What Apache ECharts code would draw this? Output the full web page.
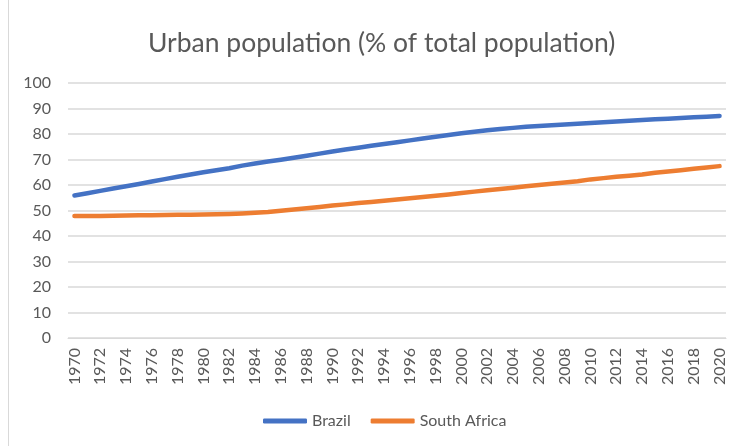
<!DOCTYPE html>
<html>
<head>
<meta charset="utf-8">
<script src="https://cdn.jsdelivr.net/npm/echarts@6/dist/echarts.min.js"></script>
<style>
  html, body { margin: 0; padding: 0; background: #fff; }
  #chart { width: 736px; height: 446px; }
</style>
</head>
<body>
<div id="chart"></div>
<script>
// Urban population as a share of total population, 1970–2020
const years = [];
for (let y = 1970; y <= 2020; y++) years.push(String(y));

const brazil = [
  55.9, 56.8, 57.7, 58.6, 59.5, 60.4, 61.4, 62.3, 63.2, 64.1,
  65.0, 65.8, 66.6, 67.6, 68.4, 69.2, 69.9, 70.7, 71.5, 72.3,
  73.1, 73.9, 74.6, 75.4, 76.1, 76.8, 77.5, 78.2, 78.9, 79.6,
  80.3, 80.9, 81.5, 82.0, 82.4, 82.8, 83.1, 83.4, 83.7, 84.0,
  84.3, 84.6, 84.9, 85.2, 85.5, 85.8, 86.0, 86.3, 86.6, 86.8,
  87.1
];

const southAfrica = [
  47.8, 47.8, 47.8, 47.9, 48.0, 48.1, 48.1, 48.2, 48.3, 48.3,
  48.4, 48.5, 48.6, 48.8, 49.1, 49.4, 49.9, 50.4, 50.9, 51.4,
  52.0, 52.4, 52.9, 53.3, 53.8, 54.3, 54.8, 55.3, 55.8, 56.3,
  56.9, 57.4, 57.9, 58.4, 58.9, 59.5, 60.0, 60.5, 61.0, 61.5,
  62.2, 62.7, 63.2, 63.6, 64.1, 64.8, 65.3, 65.8, 66.4, 66.9,
  67.4
];

const seriesNames = ['Brazil', 'South Africa'];
const seriesColors = ['#4472C4', '#ED7D31'];

const fontFamily = 'Lato, "Open Sans", sans-serif';
const chart = echarts.init(document.getElementById('chart'));

chart.setOption({
  animation: false,
  backgroundColor: '#ffffff',
  title: {
    text: 'Urban population (% of total population)',
    left: 143,
    top: 25,
    textStyle: { fontFamily, fontSize: 26.5, fontWeight: 'normal', color: '#595959' }
  },
  legend: {
    bottom: 12,
    left: 258,
    itemWidth: 44,
    itemHeight: 5,
    itemGap: 20,
    icon: 'roundRect',
    textStyle: { fontFamily, fontSize: 16, color: '#595959' },
    data: seriesNames
  },
  grid: { left: 68, right: 10, top: 83, bottom: 108 },
  xAxis: {
    type: 'category',
    data: years,
    boundaryGap: true,
    axisLine: { lineStyle: { color: '#d9d9d9', width: 1 } },
    axisTick: { show: false },
    axisLabel: {
      interval: 1,
      rotate: 90,
      margin: 10,
      fontFamily,
      fontSize: 16,
      color: '#595959'
    }
  },
  yAxis: {
    type: 'value',
    min: 0,
    max: 100,
    interval: 10,
    axisLine: { show: false },
    axisTick: { show: false },
    splitLine: { lineStyle: { color: '#d9d9d9', width: 1.5 } },
    axisLabel: { margin: 17, fontFamily, fontSize: 16, color: '#595959' }
  },
  series: [
    {
      name: seriesNames[0],
      type: 'line',
      data: brazil,
      showSymbol: false,
      lineStyle: { color: seriesColors[0], width: 4.5, cap: 'round', join: 'round' },
      itemStyle: { color: seriesColors[0] }
    },
    {
      name: seriesNames[1],
      type: 'line',
      data: southAfrica,
      showSymbol: false,
      lineStyle: { color: seriesColors[1], width: 4.5, cap: 'round', join: 'round' },
      itemStyle: { color: seriesColors[1] }
    }
  ],
  graphic: [
    {
      type: 'line',
      shape: { x1: 8.5, y1: 0, x2: 8.5, y2: 446 },
      style: { stroke: '#d9d9d9', lineWidth: 1 },
      silent: true
    }
  ]
});
</script>
</body>
</html>
